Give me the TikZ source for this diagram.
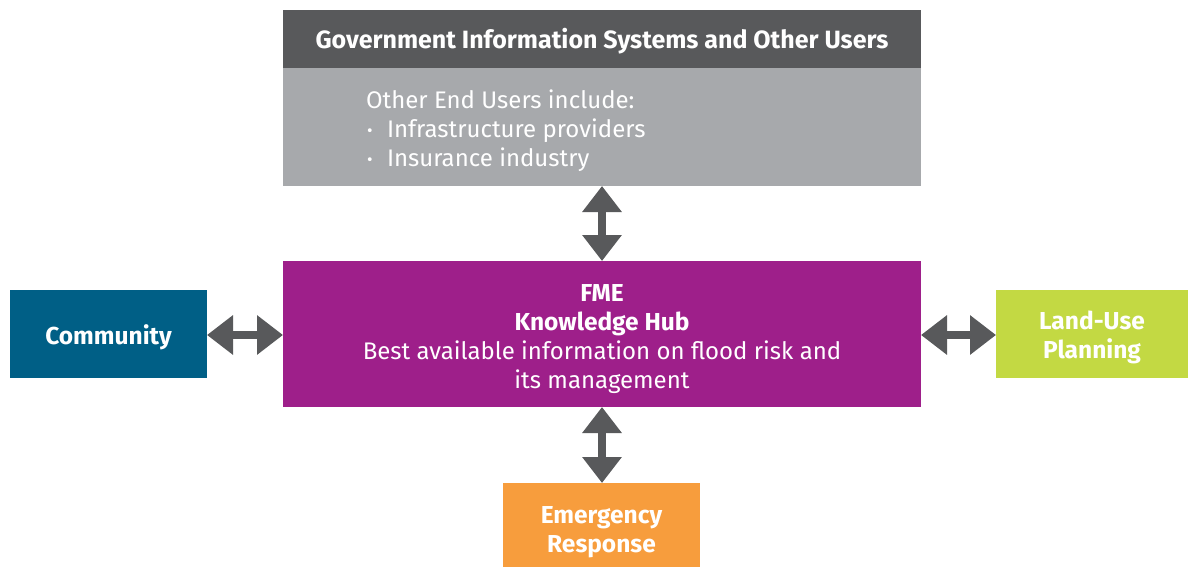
\documentclass[tikz,border=0pt]{standalone}
\usepackage{fontspec}
\setmainfont{Fira Sans}
\usetikzlibrary{arrows.meta}
\definecolor{hdrgray}{HTML}{58595B}
\definecolor{bodygray}{HTML}{A7A9AC}
\definecolor{hubpurple}{HTML}{9E1F8A}
\definecolor{commblue}{HTML}{005F86}
\definecolor{landlime}{HTML}{C3D943}
\definecolor{emorange}{HTML}{F79D3D}
\definecolor{arrgray}{HTML}{58595B}
\newcommand{\mylines}[2]{\raisebox{#1}[\height][\depth]{\begin{tabular}{@{}c@{}}#2\end{tabular}}}
\newcommand{\mybul}{\makebox[21pt][l]{\hspace{1pt}{\fontsize{17}{17}\selectfont\raisebox{1pt}{•}}}}
\tikzset{
  box/.style={rectangle, inner sep=0pt, outer sep=0pt, text=white, align=center,
    font=\fontsize{24}{29}\selectfont},
  bfbox/.style={box, font=\fontsize{24.5}{29}\selectfont\bfseries},
  dblarrow/.style={draw=arrgray, line width=8pt,
    {Triangle[width=38pt,length=26pt]}-{Triangle[width=38pt,length=26pt]}},
}
\begin{document}
\begin{tikzpicture}[x=1pt,y=-1pt]
\useasboundingbox (0,0) rectangle (1188,567);
\node[bfbox, fill=hdrgray, minimum width=638pt, minimum height=58pt, anchor=north west, font=\fontsize{25}{29}\selectfont\bfseries] (hdr) at (283,10) {\mylines{-4pt}{Government Information Systems and Other Users}};
\node[box, fill=bodygray, minimum width=638pt, minimum height=118pt, anchor=north west] (body) at (283,68) {};
\node[box, anchor=north west] (bodytext) at (366,88) {\begin{tabular}{@{}l@{}}Other End Users include:\\\mybul Infrastructure providers\\\mybul Insurance industry\end{tabular}};
\node[box, fill=hubpurple, minimum width=638pt, minimum height=146pt, anchor=north west] (hub) at (283,261) {\mylines{-5pt}{{\bfseries\fontsize{24.5}{29}\selectfont FME}\\{\bfseries\fontsize{24.5}{29}\selectfont Knowledge Hub}\\Best available information on flood risk and\\its management}};
\node[bfbox, fill=commblue, minimum width=197pt, minimum height=88pt, anchor=north west] (comm) at (10,290) {\mylines{-5pt}{Community}};
\node[bfbox, fill=landlime, minimum width=192pt, minimum height=88pt, anchor=north west] (land) at (996,290) {\mylines{-4.5pt}{Land-Use\\Planning}};
\node[bfbox, fill=emorange, minimum width=197pt, minimum height=84pt, anchor=north west] (emer) at (503,483) {\mylines{-7pt}{Emergency\\Response}};
\draw[dblarrow] (body.south -| 602,0) -- (hub.north -| 602,0);
\draw[dblarrow] (hub.south -| 602,0) -- (emer.north -| 602,0);
\draw[dblarrow] (comm.east |- 0,335) -- (hub.west |- 0,335);
\draw[dblarrow] (hub.east |- 0,335) -- (land.west |- 0,335);
\end{tikzpicture}
\end{document}
